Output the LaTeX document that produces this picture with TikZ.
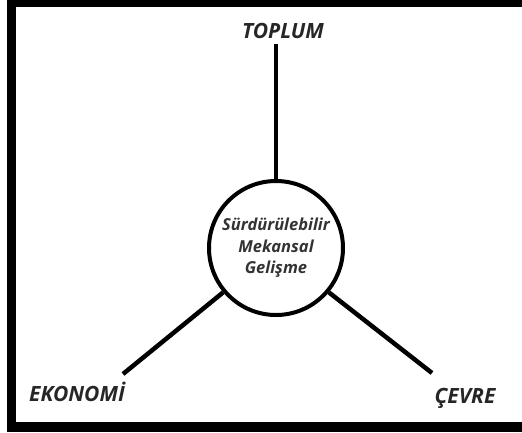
\documentclass[tikz,border=0pt]{standalone}
\usepackage{fontspec}
\setmainfont{Open Sans}
\begin{document}
\begin{tikzpicture}[x=1pt,y=-1pt,
  lbl/.style={font=\fontsize{21}{24}\selectfont\bfseries\itshape, text=black!85, inner sep=0pt, anchor=base},
  spoke/.style={line width=4.5pt}]
\useasboundingbox (0,0) rectangle (522,432);
\fill (7,0) rectangle (522,7);
\fill (7,0) rectangle (16,432);
\fill (7,422) rectangle (522,432);
\node[circle, draw, line width=4pt, minimum size=134pt, inner sep=0pt,
  align=center, font=\fontsize{16.5}{21.5}\selectfont\bfseries\itshape, text=black!80] (c) at (276,248)
  {Sürdürülebilir\\Mekansal\\Gelişme};
\node[lbl] (t) at (283,38) {TOPLUM};
\node[lbl] (e) at (77,401) {EKONOMİ};
\node[lbl] (v) at (465,403) {ÇEVRE};
\coordinate (te) at (276,44);
\coordinate (ee) at (123,374);
\coordinate (ve) at (432,373);
\draw[spoke] (te) -- (c.north);
\draw[spoke] (ee) -- (c.220);
\draw[spoke] (ve) -- (c.-40);
\end{tikzpicture}
\end{document}
